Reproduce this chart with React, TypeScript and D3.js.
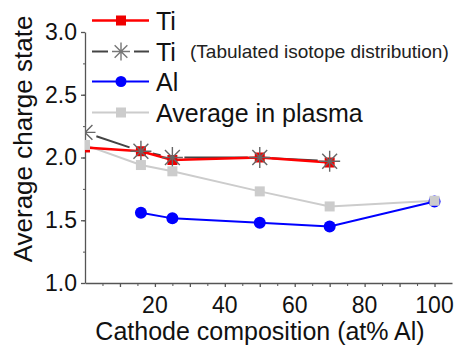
import * as d3 from "d3";
import React, { useEffect, useRef } from "react";

// Cathode composition (at% Al)
const tiX = [0, 16, 25, 50, 70];
const tiValues = [2.08, 2.05, 1.98, 2.0, 1.96];
const tabValues = [2.2, 2.05, 2.0, 2.0, 1.97];

const alX = [16, 25, 50, 70, 100];
const alValues = [1.56, 1.515, 1.48, 1.45, 1.65];

const plasmaX = [0, 16, 25, 50, 70, 100];
const plasmaValues = [2.1, 1.94, 1.89, 1.73, 1.61, 1.655];

const yTickLabels = [1.0, 1.5, 2.0, 2.5, 3.0];
const xTickLabels = [20, 40, 60, 80, 100];

const legendItems = ["Ti", "Ti", "Al", "Average in plasma"];
const legendNote = "(Tabulated isotope distribution)";

const W = 461;
const H = 346;
const FONT = "'Liberation Sans', Arial, sans-serif";

const Chart = () => {
  const svgRef = useRef<SVGSVGElement>(null);

  useEffect(() => {
    const svg = d3.select(svgRef.current);
    svg.selectAll("*").remove();

    const x = d3.scaleLinear().domain([0, 105]).range([85, 452]);
    const y = d3.scaleLinear().domain([1, 3]).range([283, 32]);

    const axisColor = "#555";

    svg
      .append("defs")
      .append("clipPath")
      .attr("id", "plot-clip")
      .append("rect")
      .attr("x", x(0))
      .attr("y", 0)
      .attr("width", W)
      .attr("height", H);

    // Y axis: minor ticks then major ticks with labels
    const yMinor = svg
      .append("g")
      .attr("transform", `translate(${x(0)},0)`)
      .call(
        d3.axisLeft(y).tickValues(d3.range(1, 3.01, 0.25)).tickSize(2).tickFormat(() => "")
      );
    yMinor.select(".domain").remove();
    yMinor.selectAll("line").attr("stroke", axisColor);

    const yAxis = svg
      .append("g")
      .attr("transform", `translate(${x(0)},0)`)
      .call(
        d3.axisLeft(y).tickValues(yTickLabels).tickSize(4).tickSizeOuter(0).tickPadding(4).tickFormat(d3.format(".1f"))
      );
    yAxis.select(".domain").attr("stroke", axisColor).attr("stroke-width", 1.3);
    yAxis.selectAll("line").attr("stroke", axisColor).attr("stroke-width", 1.3);
    yAxis
      .selectAll("text")
      .attr("font-family", FONT)
      .attr("font-size", 23)
      .attr("fill", "#111");

    // X axis
    const xMinor = svg
      .append("g")
      .attr("transform", `translate(0,${y(1)})`)
      .call(d3.axisBottom(x).tickValues(d3.range(5, 105, 10)).tickSize(3).tickFormat(() => ""));
    xMinor.select(".domain").remove();
    xMinor.selectAll("line").attr("stroke", axisColor);

    const xMajor = svg
      .append("g")
      .attr("transform", `translate(0,${y(1)})`)
      .call(d3.axisBottom(x).tickValues(d3.range(10, 101, 10)).tickSize(4).tickSizeOuter(0).tickFormat(() => ""));
    xMajor.select(".domain").attr("stroke", axisColor).attr("stroke-width", 1.3);
    xMajor.selectAll("line").attr("stroke", axisColor).attr("stroke-width", 1.3);

    svg
      .append("g")
      .selectAll("text")
      .data(xTickLabels)
      .enter()
      .append("text")
      .attr("x", (d) => x(d))
      .attr("y", y(1) + 30)
      .attr("text-anchor", "middle")
      .attr("font-family", FONT)
      .attr("font-size", 23)
      .attr("fill", "#111")
      .text((d) => d);

    // Axis titles
    svg
      .append("text")
      .attr("transform", "translate(32,139) rotate(-90)")
      .attr("text-anchor", "middle")
      .attr("font-family", FONT)
      .attr("font-size", 26)
      .attr("fill", "#111")
      .text("Average charge state");

    svg
      .append("text")
      .attr("x", 260)
      .attr("y", 340)
      .attr("text-anchor", "middle")
      .attr("font-family", FONT)
      .attr("font-size", 25)
      .attr("fill", "#111")
      .text("Cathode composition (at% Al)");

    const plot = svg.append("g").attr("clip-path", "url(#plot-clip)");

    const line = d3
      .line<[number, number]>()
      .x((d) => x(d[0]))
      .y((d) => y(d[1]));

    const ti = tiX.map((v, i) => [v, tiValues[i]] as [number, number]);
    const tab = tiX.map((v, i) => [v, tabValues[i]] as [number, number]);
    const al = alX.map((v, i) => [v, alValues[i]] as [number, number]);
    const plasma = plasmaX.map((v, i) => [v, plasmaValues[i]] as [number, number]);

    const asterisk = (r: number) =>
      d3
        .range(4)
        .map((k) => {
          const a = (k * Math.PI) / 4;
          const dx = r * Math.cos(a);
          const dy = r * Math.sin(a);
          return `M${-dx},${-dy}L${dx},${dy}`;
        })
        .join("");

    // Average in plasma line
    plot
      .append("path")
      .datum(plasma)
      .attr("d", line)
      .attr("fill", "none")
      .attr("stroke", "#cccccc")
      .attr("stroke-width", 2);

    // Al
    plot
      .append("path")
      .datum(al)
      .attr("d", line)
      .attr("fill", "none")
      .attr("stroke", "#0000ff")
      .attr("stroke-width", 2);
    plot
      .selectAll(".al")
      .data(al)
      .enter()
      .append("circle")
      .attr("cx", (d) => x(d[0]))
      .attr("cy", (d) => y(d[1]))
      .attr("r", 6)
      .attr("fill", "#0000ff");

    // Tabulated Ti line, with gaps next to the symbols
    const gap = 12;
    plot
      .append("g")
      .selectAll("line")
      .data(d3.pairs(tab))
      .enter()
      .append("line")
      .each(function ([a, b]) {
        const x1 = x(a[0]);
        const y1 = y(a[1]);
        const x2 = x(b[0]);
        const y2 = y(b[1]);
        const len = Math.hypot(x2 - x1, y2 - y1);
        const ux = (x2 - x1) / len;
        const uy = (y2 - y1) / len;
        d3.select(this)
          .attr("x1", x1 + ux * gap)
          .attr("y1", y1 + uy * gap)
          .attr("x2", x2 - ux * gap)
          .attr("y2", y2 - uy * gap);
      })
      .attr("stroke", "#444")
      .attr("stroke-width", 2);

    // Ti
    plot
      .append("path")
      .datum(ti)
      .attr("d", line)
      .attr("fill", "none")
      .attr("stroke", "#ff0000")
      .attr("stroke-width", 2.5);
    plot
      .selectAll(".ti")
      .data(ti)
      .enter()
      .append("rect")
      .attr("x", (d) => x(d[0]) - 5)
      .attr("y", (d) => y(d[1]) - 5)
      .attr("width", 10)
      .attr("height", 10)
      .attr("fill", "#ee0000");

    plot
      .selectAll(".tab")
      .data(tab)
      .enter()
      .append("path")
      .attr("transform", (d) => `translate(${x(d[0])},${y(d[1])})`)
      .attr("d", asterisk(10.5))
      .attr("stroke", "#666")
      .attr("stroke-width", 1.4)
      .attr("fill", "none");

    // Average in plasma squares on top
    plot
      .selectAll(".plasma")
      .data(plasma)
      .enter()
      .append("rect")
      .attr("x", (d) => x(d[0]) - 5)
      .attr("y", (d) => y(d[1]) - 5)
      .attr("width", 10)
      .attr("height", 10)
      .attr("fill", "#cccccc");

    // Legend
    const rowY = [20.5, 51.5, 81.5, 112.5];
    const lineColors = ["#ff0000", "#444", "#0000ff", "#cccccc"];
    const legend = svg.append("g");
    legendItems.forEach((label, i) => {
      const g = legend.append("g").attr("transform", `translate(0,${rowY[i]})`);
      if (i === 1) {
        g.append("line").attr("x1", 92).attr("x2", 108).attr("stroke", lineColors[i]).attr("stroke-width", 2);
        g.append("line").attr("x1", 134).attr("x2", 149).attr("stroke", lineColors[i]).attr("stroke-width", 2);
        g.append("path")
          .attr("transform", "translate(121,0)")
          .attr("d", asterisk(9))
          .attr("stroke", "#777")
          .attr("stroke-width", 1.4);
      } else {
        g.append("line")
          .attr("x1", 92)
          .attr("x2", 149)
          .attr("stroke", lineColors[i])
          .attr("stroke-width", i === 0 ? 2.5 : 2);
        if (i === 2) {
          g.append("circle").attr("cx", 121).attr("r", 5.5).attr("fill", "#0000ff");
        } else {
          g.append("rect")
            .attr("x", 116)
            .attr("y", -5)
            .attr("width", 10)
            .attr("height", 10)
            .attr("fill", i === 0 ? "#ee0000" : "#cccccc");
        }
      }
      g.append("text")
        .attr("x", 156)
        .attr("dy", "0.36em")
        .attr("font-family", FONT)
        .attr("font-size", 25)
        .attr("fill", "#111")
        .text(label);
      if (i === 1) {
        g.append("text")
          .attr("x", 190)
          .attr("dy", "0.36em")
          .attr("font-family", FONT)
          .attr("font-size", 19)
          .attr("fill", "#222")
          .text(legendNote);
      }
    });
  }, []);

  return (
    <svg
      ref={svgRef}
      width={W}
      height={H}
      viewBox={`0 0 ${W} ${H}`}
      style={{ position: "absolute", left: 0, top: 0, background: "#fff", display: "block" }}
    />
  );
};

export default function App() {
  return <Chart />;
}
